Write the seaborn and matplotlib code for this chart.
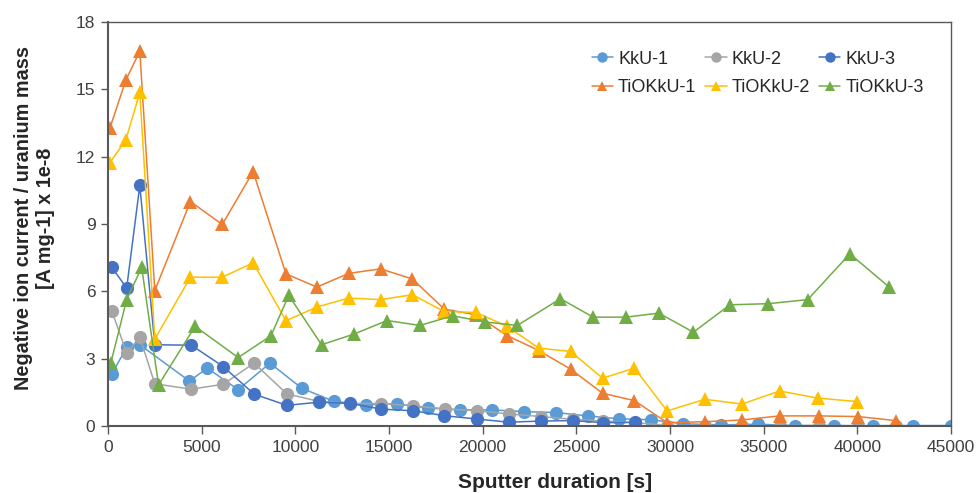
import matplotlib
matplotlib.use("Agg")
import matplotlib.pyplot as plt
from matplotlib.lines import Line2D
import pandas as pd
import numpy as np
import seaborn as sns

# sputter time [s] and normalised ion current for each sample
kku1_t = [200, 1000, 1700, 4350, 5300, 6950, 8650, 10350, 12050, 13750, 15450, 17100, 18800, 20500,
          22200, 23900, 25600, 27300, 29000, 30700, 32700, 34700, 36650, 38750, 40850, 42950, 45000]
kku1_v = [2.32, 3.5, 3.62, 2.0, 2.58, 1.62, 2.8, 1.68, 1.1, 0.95, 0.98, 0.8, 0.72, 0.72,
          0.64, 0.6, 0.45, 0.32, 0.28, 0.1, 0.05, 0.08, 0.02, 0.02, 0.01, 0.02, 0.02]

kku2_t = [200, 1000, 1700, 2500, 4450, 6150, 7800, 9550, 11250, 12900, 14600, 16300, 18000, 19700,
          21400, 23100, 24800, 26450, 28150, 29850, 31850, 33850, 35850, 37950, 40050, 42050]
kku2_v = [5.14, 3.25, 3.96, 1.88, 1.64, 1.86, 2.8, 1.43, 1.1, 1.0, 1.0, 0.9, 0.76, 0.68,
          0.54, 0.42, 0.3, 0.22, 0.15, 0.02, 0.02, 0.01, 0.02, 0.02, 0.01, 0.02]

kku3_t = [200, 1000, 1700, 2500, 4450, 6150, 7800, 9550, 11250, 12900, 14600, 16300, 17950, 19700,
          21400, 23100, 24800, 26450, 28150]
kku3_v = [7.07, 6.15, 10.72, 3.62, 3.6, 2.65, 1.42, 0.92, 1.06, 1.01, 0.75, 0.68, 0.46, 0.31,
          0.17, 0.22, 0.24, 0.15, 0.16]

tio1_t = [100, 950, 1700, 2500, 4400, 6100, 7750, 9500, 11150, 12850, 14550, 16250, 17950, 19650,
          21300, 23000, 24700, 26400, 28100, 29850, 31850, 33850, 35850, 37950, 40050, 42050]
tio1_v = [13.26, 15.4, 16.7, 6.03, 10.0, 8.98, 11.33, 6.78, 6.19, 6.8, 7.0, 6.55, 5.21, 4.95,
          4.03, 3.36, 2.53, 1.46, 1.13, 0.15, 0.19, 0.27, 0.45, 0.45, 0.42, 0.24]

tio2_t = [100, 950, 1700, 2500, 4400, 6100, 7750, 9500, 11150, 12850, 14550, 16250, 17950, 19650,
          21300, 23000, 24700, 26400, 28100, 29850, 31850, 33850, 35850, 37900, 40000]
tio2_v = [11.73, 12.74, 14.86, 3.87, 6.63, 6.63, 7.27, 4.69, 5.3, 5.7, 5.63, 5.85, 5.1, 5.06,
          4.44, 3.47, 3.32, 2.13, 2.58, 0.67, 1.19, 0.98, 1.56, 1.24, 1.09]

tio3_t = [150, 1000, 1800, 2700, 4650, 6950, 8700, 9650, 11400, 13150, 14900, 16650, 18400, 20100,
          21850, 24150, 25900, 27650, 29400, 31250, 33200, 35250, 37350, 39600, 41700]
tio3_v = [2.8, 5.63, 7.07, 1.83, 4.44, 3.05, 4.02, 5.82, 3.62, 4.1, 4.7, 4.48, 4.91, 4.64,
          4.48, 5.67, 4.85, 4.85, 5.03, 4.18, 5.4, 5.45, 5.63, 7.67, 6.19]

names = ["KkU-1", "KkU-2", "KkU-3", "TiOKkU-1", "TiOKkU-2", "TiOKkU-3"]
series = [(kku1_t, kku1_v), (kku2_t, kku2_v), (kku3_t, kku3_v),
          (tio1_t, tio1_v), (tio2_t, tio2_v), (tio3_t, tio3_v)]

frames = []
for n, (t, v) in zip(names, series):
    frames.append(pd.DataFrame({"time": t, "value": v, "sample": n}))
df = pd.concat(frames, ignore_index=True)

palette = {"KkU-1": "#5B9BD5", "KkU-2": "#A5A5A5", "KkU-3": "#4472C4",
           "TiOKkU-1": "#ED7D31", "TiOKkU-2": "#FFC000", "TiOKkU-3": "#70AD47"}
markers = {"KkU-1": "o", "KkU-2": "o", "KkU-3": "o",
           "TiOKkU-1": "^", "TiOKkU-2": "^", "TiOKkU-3": "^"}

sns.set_style("white")
plt.rcParams['font.family'] = ['Liberation Sans', 'DejaVu Sans']

fig = plt.figure(figsize=(9.77, 4.93), dpi=100)
ax = fig.add_axes([0.1105, 0.1359, 0.8629, 0.8195])

sns.lineplot(data=df, x="time", y="value", hue="sample", style="sample",
             hue_order=names, style_order=names, palette=palette, markers=markers,
             dashes=False, markersize=9.5, markeredgewidth=0, linewidth=1.1,
             estimator=None, ax=ax, legend=False)

ax.set_xlim(0, 45000)
ax.set_ylim(0, 18)
ax.set_xticks(np.arange(0, 45001, 5000))
ax.set_yticks(np.arange(0, 19, 3))
ax.tick_params(axis='both', bottom=True, left=True, labelsize=12.5, labelcolor='#404040',
               color='#595959', direction='out', width=1)
ax.tick_params(axis='x', length=6, pad=4)
ax.tick_params(axis='y', length=5, pad=4)

for side in ['left', 'bottom']:
    ax.spines[side].set_color('#595959')
    ax.spines[side].set_linewidth(1.5)
for side in ['top', 'right']:
    ax.spines[side].set_color('#595959')
    ax.spines[side].set_linewidth(1.0)

ax.set_xlabel("Sputter duration [s]", fontsize=15, fontweight='bold', color='#262626')
ax.set_ylabel("Negative ion current / uranium mass\n[A mg-1] x 1e-8", fontsize=14.3,
              fontweight='bold', color='#262626')
ax.xaxis.set_label_coords(0.530, -0.116)
ax.yaxis.set_label_coords(-0.063, 0.515)

# legend: 2 rows x 3 columns, filled column-wise
leg_order = ["KkU-1", "TiOKkU-1", "KkU-2", "TiOKkU-2", "KkU-3", "TiOKkU-3"]
handles = [Line2D([], [], color=palette[n], marker=markers[n], markersize=7.5,
                  markeredgewidth=0, linewidth=1.1) for n in leg_order]
ax.legend(handles, leg_order, ncol=3, loc='upper left', bbox_to_anchor=(0.574, 0.929),
          frameon=False, fontsize=13, handlelength=1.17, handletextpad=0.28,
          columnspacing=0.5, labelspacing=0.62, borderpad=0, borderaxespad=0)

fig.savefig("out.png", dpi=100)
